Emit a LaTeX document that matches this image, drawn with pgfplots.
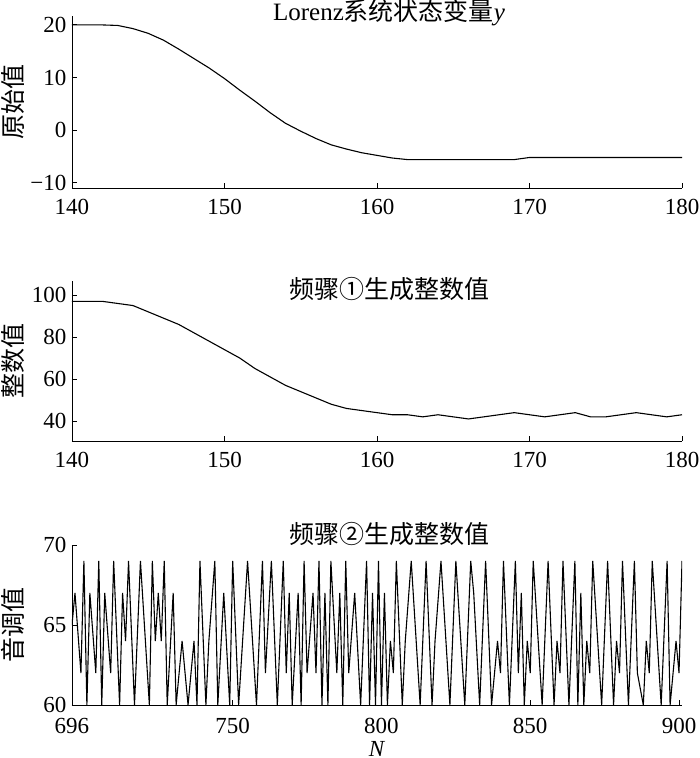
\documentclass[border=0pt]{standalone}
\usepackage{pgfplots}
\pgfplotsset{compat=1.18}
\usepackage{fontspec}
\setmainfont{Liberation Serif}
\newfontfamily\cjk{Noto Sans CJK SC}

\pgfplotsset{
  panel/.style={
    scale only axis, width=610pt,
    anchor=south west,
    axis x line=bottom, axis y line=left,
    axis line style={-, line width=0.9pt},
    tick align=inside, major tick length=5pt,
    every tick/.style={line width=0.9pt, black},
    tick label style={font=\fontsize{23}{25}\selectfont},
    /pgf/number format/assume math mode=true,
    /pgf/number format/1000 sep={},
    label style={font=\fontsize{25}{27}\selectfont\cjk},
    ylabel style={at={(axis description cs:-0.097,0.5)}, anchor=center},
    every axis title shift=0pt,
    title style={font=\fontsize{25}{27}\selectfont, at={(0.5,1)}, anchor=center, xshift=12pt},
    xticklabel style={yshift=-8pt},
    yticklabel style={xshift=-2pt},
  },
  curve/.style={black, line width=1.1pt, mark=none},
}

\begin{document}
\begin{tikzpicture}
\path[use as bounding box] (0,0) rectangle (700pt,758pt);

% Lorenz y
\begin{axis}[panel, at={(72pt,570pt)}, height=172pt,
    xmin=140, xmax=180, ymin=-11, ymax=21.7,
    xtick={140,150,...,180}, ytick={-10,0,10,20},
    yticklabels={−10,0,10,20},
    title={Lorenz{\cjk 系统状态变量}\textit{y}},
    title style={yshift=3pt},
    ylabel={原始值}]
\addplot[curve] coordinates {
 (140,20) (141,20) (142,20) (143,19.9) (144,19.3) (145,18.4) (146,17.1)
 (147,15.4) (148,13.6) (149,11.8) (150,9.8) (151,7.6) (152,5.5) (153,3.3)
 (154,1.3) (155,-0.2) (156,-1.6) (157,-2.8) (158,-3.6) (159,-4.3) (160,-4.8)
 (161,-5.3) (162,-5.6) (163,-5.6) (164,-5.6) (165,-5.6) (166,-5.6) (167,-5.6)
 (168,-5.6) (169,-5.6) (170,-5.2) (171,-5.2) (172,-5.2) (173,-5.2) (174,-5.2)
 (175,-5.2) (176,-5.2) (177,-5.2) (178,-5.2) (179,-5.2) (180,-5.2)
};
\end{axis}

% step 1 integers
\begin{axis}[panel, at={(72pt,317pt)}, height=160pt,
    xmin=140, xmax=180, ymin=30.5, ymax=106.7,
    xtick={140,150,...,180}, ytick={40,60,80,100},
    title={{\cjk 频骤①生成整数值}},
    title style={yshift=-8pt},
    ylabel={整数值}]
\addplot[curve] coordinates {
 (140,97) (141,97) (142,97) (143,96) (144,95) (145,92) (146,89) (147,86)
 (148,82) (149,78) (150,74) (151,70) (152,65) (153,61) (154,57) (155,54)
 (156,51) (157,48) (158,46) (159,45) (160,44) (161,43) (162,43) (163,42)
 (164,43) (165,42) (166,41) (167,42) (168,43) (169,44) (170,43) (171,42)
 (172,43) (173,44) (174,42) (175,42) (176,43) (177,44) (178,43) (179,42)
 (180,43)
};
\end{axis}

% step 2 pitches
\begin{axis}[panel, at={(72pt,53pt)}, height=160pt,
    xmin=696, xmax=901, ymin=60, ymax=70,
    xtick={696,750,800,850,900},
    ytick={60,65,70},
    xticklabel style={yshift=-2pt},
    title={{\cjk 频骤②生成整数值}},
    title style={yshift=11pt},
    ylabel={音调值},
    xlabel={\textit{N}},
    xlabel style={font=\fontsize{23}{23}\selectfont\rmfamily,
      at={(axis description cs:0.5,0)}, anchor=center,
      yshift=-44pt, inner sep=0pt}]
\addplot[curve] coordinates {
 (696,65) (697,67) (699,62) (700,69) (701,60) (702,67) (704,62) (705,69)
 (706,60) (707,67) (709,62) (710,69) (712,60) (713,67) (714,64) (715,69)
 (717,60) (719,69) (722,60) (723,69) (724,64) (725,67) (726,64) (727,69)
 (728,60) (730,67) (731,60) (733,64) (735,60) (737,64) (738,60) (739,69)
 (741,60) (742,64) (744,69) (745,60) (747,67) (749,60) (750,69) (752,60)
 (755,69) (758,60) (760,69) (761,62) (763,69) (765,60) (767,69) (768,62)
 (769,67) (770,60) (772,67) (773,60) (774,69) (775,62) (777,67) (778,62)
 (779,69) (780,60) (781,67) (782,60) (783,69) (785,62) (786,67) (787,60)
 (788,69) (789,62) (791,67) (793,60) (795,69) (796,60) (797,67)
 (798,60) (799,69) (800,60) (801,67) (802,60) (803,64) (804,62) (805,69)
 (807,60) (808,64) (810,69) (813,60) (815,69) (817,60) (818,64) (820,69)
 (823,60) (825,69) (828,60) (830,69) (831,67) (833,60) (835,69) (837,60)
 (839,64) (840,62) (841,69) (843,60) (845,69) (846,62) (847,67) (848,60)
 (849,64) (850,62) (851,69) (854,60) (856,69) (858,60) (859,64) (860,62)
 (861,69) (863,60) (865,69) (866,60) (867,67) (868,60) (869,64) (870,62)
 (871,69) (874,60) (876,69) (878,60) (879,64) (880,62) (881,69) (883,60)
 (885,69) (886,62) (888,60) (889,64) (890,62) (891,69) (894,60) (896,69)
 (897,60) (899,64) (900,62) (901,69)
};
\end{axis}
\end{tikzpicture}
\end{document}
